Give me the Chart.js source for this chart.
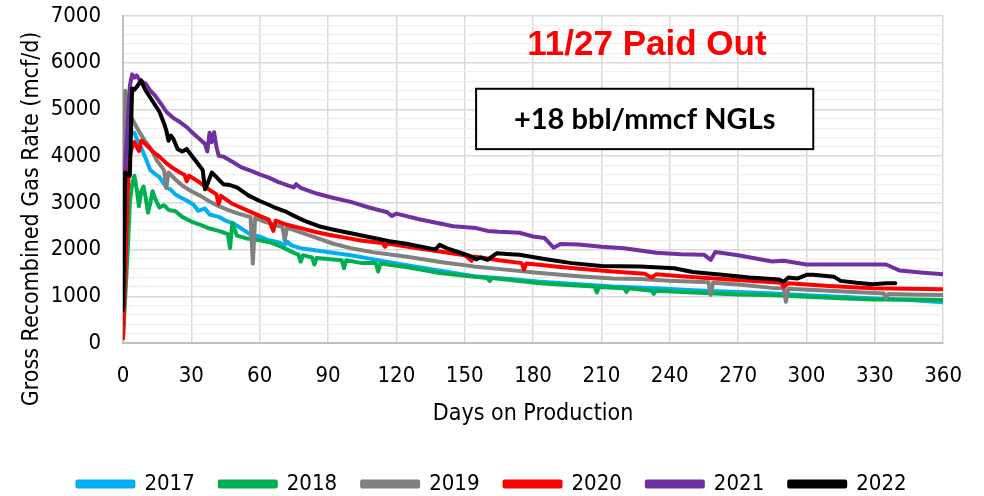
<!DOCTYPE html>
<html>
<head>
<meta charset="utf-8">
<script src="https://cdn.jsdelivr.net/npm/chart.js@4/dist/chart.umd.min.js"></script>
<style>
html,body{margin:0;padding:0;background:#fff;}
#wrap{width:984px;height:496px;position:relative;}
</style>
</head>
<body>
<div id="wrap"><canvas id="c" width="984" height="496"></canvas></div>
<script>
const seriesLabels = ['2017','2018','2019','2020','2021','2022'];
const seriesColors = ['#00b0f0','#00b050','#808080','#ff0000','#7030a0','#000000'];

const days2017 = [0,1,2,3,4,5,6,8,10,12,14,16,19,21,23,26,28,31,33,36,38,42,45,48,52,56,60,64,68,71,72,74,78,85,92,100,110,124,140,154,170,183,200,215,234,250,270,286,300,315,330,345,360];
const rate2017 = [300,2200,3900,4450,4500,4500,4380,4180,3950,3700,3620,3550,3330,3280,3180,3100,3050,2960,2830,2880,2750,2700,2620,2570,2450,2320,2280,2200,2160,2100,2170,2090,2030,1980,1930,1880,1790,1670,1540,1430,1370,1310,1260,1210,1170,1130,1090,1060,1020,990,950,920,870];

const days2018 = [0,1,2,3,4,5,6,7,8,9,10,11,12,13,14,16,18,20,23,26,30,34,38,42,46,47,48,50,55,60,65,70,75,77,78,79,83,84,85,90,96,97,98,105,111,112,113,125,139,150,160,161,162,175,183,195,207,208,209,220,221,222,232,233,234,250,270,286,300,315,329,345,360];
const rate2018 = [100,1000,1900,3000,3400,3580,3300,2930,3250,3350,3100,2790,3000,3250,3100,2900,2950,2850,2820,2700,2600,2530,2450,2400,2330,2030,2570,2300,2230,2200,2150,2050,1930,1890,1740,1880,1830,1680,1820,1800,1770,1600,1770,1710,1710,1530,1700,1620,1500,1440,1390,1330,1390,1320,1280,1240,1210,1080,1200,1170,1090,1170,1120,1050,1120,1080,1040,1020,990,960,930,930,920];

const days2019 = [0,1,2,3,4,6,8,10,12,15,18,19,20,23,26,30,34,38,42,46,50,54,56,57,58,62,66,70,71,72,78,85,92,100,110,124,140,154,170,183,200,215,227,240,257,258,259,270,285,290,291,292,310,330,334,335,336,345,360];
const rate2019 = [100,5400,5000,4900,4800,4620,4450,4300,4180,3900,3700,3320,3650,3500,3370,3250,3150,3030,2930,2850,2780,2720,2700,1700,2680,2600,2540,2480,2200,2470,2370,2250,2130,2030,1940,1850,1730,1640,1560,1500,1430,1380,1370,1330,1300,1030,1290,1250,1180,1170,880,1160,1120,1070,1060,960,1050,1040,1030];

const days2020 = [0,1,2,3,4,5,6,7,8,9,10,12,14,16,19,22,25,27,28,29,33,38,41,42,43,48,55,60,64,66,67,72,78,85,92,98,105,114,115,116,125,139,150,153,154,165,175,176,177,190,198,215,229,232,234,245,256,275,289,290,292,310,329,345,360];
const rate2020 = [100,1500,3200,4000,4200,4300,4200,4110,4330,4300,4250,4150,4060,3990,3850,3740,3650,3600,3460,3580,3460,3280,3180,2980,3150,2980,2830,2720,2640,2400,2620,2530,2460,2370,2300,2250,2190,2140,2060,2130,2060,1960,1880,1760,1850,1770,1710,1570,1700,1640,1600,1530,1480,1400,1470,1430,1390,1330,1290,1200,1280,1220,1170,1160,1150];

const days2021 = [0,1,2,3,4,5,6,7,8,10,12,14,17,19,22,25,28,31,34,36,37,38,39,40,41,42,44,48,52,56,60,64,68,72,75,76,78,85,92,100,108,116,118,120,130,145,155,160,165,174,180,185,189,192,200,210,220,234,245,255,258,260,270,285,290,300,315,335,341,350,360];
const rate2021 = [700,3800,4600,5500,5750,5680,5730,5650,5600,5550,5400,5300,5100,4950,4820,4730,4620,4480,4350,4260,4100,4500,4300,4510,4200,4010,3990,3880,3760,3690,3610,3540,3450,3380,3330,3400,3320,3200,3110,3020,2900,2800,2720,2770,2650,2500,2460,2400,2380,2360,2280,2250,2040,2120,2110,2060,2030,1930,1900,1890,1780,1950,1880,1745,1760,1680,1680,1680,1550,1510,1470];

const days2022 = [0,1,2,3,4,5,6,7,8,9,10,12,14,16,18,19,20,21,22,24,26,28,30,33,35,36,37,39,41,44,47,50,55,60,64,67,72,76,80,86,92,100,108,117,125,132,137,139,142,150,153,155,157,160,164,170,174,185,197,210,227,242,250,263,275,288,290,292,296,300,303,312,315,322,329,335,339];
const rate2022 = [700,3650,3600,3580,5450,5420,5480,5550,5620,5500,5400,5250,5100,4950,4700,4550,4330,4440,4380,4150,4100,4150,4020,3830,3700,3290,3400,3650,3550,3400,3380,3330,3160,3040,2960,2890,2800,2700,2610,2500,2430,2350,2270,2180,2120,2050,2000,2100,2030,1900,1850,1790,1830,1780,1920,1900,1890,1800,1710,1650,1640,1600,1520,1460,1400,1360,1310,1400,1380,1460,1460,1420,1330,1290,1260,1280,1280];

const xTicks = [0,30,60,90,120,150,180,210,240,270,300,330,360];
const yTicks = [0,1000,2000,3000,4000,5000,6000,7000];
const titleText = '11/27 Paid Out';
const boxText = '+18 bbl/mmcf NGLs';
const xTitle = 'Days on Production';
const yTitle = 'Gross Recombined Gas Rate (mcf/d)';

const allDays = [days2017,days2018,days2019,days2020,days2021,days2022];
const allRates = [rate2017,rate2018,rate2019,rate2020,rate2021,rate2022];

const FONT = "'DejaVu Sans Condensed', 'DejaVu Sans', sans-serif";

const datasets = seriesLabels.map((lab, i) => ({
  label: lab,
  data: allDays[i].map((d, k) => ({x: d, y: allRates[i][k]})),
  borderColor: seriesColors[i],
  backgroundColor: seriesColors[i],
  borderWidth: 4,
  borderJoinStyle: 'round',
  borderCapStyle: 'round',
  pointRadius: 0,
  tension: 0,
  fill: false,
  order: seriesLabels.length - i
}));

const annot = {
  id: 'annot',
  afterDatasetsDraw(chart) {
    const ctx = chart.ctx, x = chart.scales.x, y = chart.scales.y;
    ctx.save();
    ctx.fillStyle = '#ff0000';
    ctx.font = "bold 35px 'Liberation Sans', Arial, sans-serif";
    ctx.textAlign = 'center';
    ctx.textBaseline = 'alphabetic';
    ctx.fillText(titleText, x.getPixelForValue(230), y.getPixelForValue(6166));
    const bx0 = x.getPixelForValue(155), bx1 = x.getPixelForValue(303);
    const by0 = y.getPixelForValue(5442), by1 = y.getPixelForValue(4150);
    ctx.fillStyle = '#ffffff';
    ctx.fillRect(bx0, by0, bx1 - bx0, by1 - by0);
    ctx.strokeStyle = '#000000';
    ctx.lineWidth = 2;
    ctx.strokeRect(bx0, by0, bx1 - bx0, by1 - by0);
    ctx.fillStyle = '#000000';
    ctx.font = "bold 29px Lato, 'Open Sans', sans-serif";
    ctx.fillText(boxText, (bx0 + bx1) / 2, y.getPixelForValue(4581));
    ctx.restore();
  }
};

new Chart(document.getElementById('c'), {
  type: 'line',
  data: { datasets },
  plugins: [annot],
  options: {
    responsive: false,
    animation: false,
    devicePixelRatio: 1,
    layout: { padding: { left: 0, right: 0, top: 16, bottom: -9 } },
    plugins: {
      tooltip: { enabled: false },
      legend: {
        position: 'bottom',
        labels: {
          boxWidth: 56, boxHeight: 5, padding: 25,
          color: '#000', font: { family: FONT, size: 22 },
          sort: (a, b) => a.datasetIndex - b.datasetIndex
        }
      }
    },
    scales: {
      x: {
        type: 'linear', min: 0, max: 360,
        afterBuildTicks: (s) => { s.ticks = xTicks.map(v => ({value: v})); },
        afterFit: (s) => { s.height = 105; },
        ticks: { color: '#000', font: { family: FONT, size: 22, lineHeight: 1.0 }, padding: 22, maxRotation: 0, autoSkip: false },
        grid: { color: '#d9d9d9', lineWidth: 1.5, drawTicks: false },
        border: { color: '#bfbfbf', width: 2 },
        title: { display: true, text: xTitle, color: '#000', font: { family: FONT, size: 23 }, padding: { top: 0, bottom: 20 } }
      },
      y: {
        type: 'linear', min: 0, max: 7000,
        afterBuildTicks: (s) => { const t = []; for (let v = 0; v <= 7000; v += 200) t.push({value: v}); s.ticks = t; },
        afterFit: (s) => { s.width = 123; },
        ticks: {
          color: '#000', font: { family: FONT, size: 22 }, padding: 0, autoSkip: false,
          callback: (v) => yTicks.includes(v) ? String(v) : ''
        },
        grid: {
          drawTicks: true, tickLength: 22, tickColor: 'rgba(0,0,0,0)',
          color: (c) => (c.tick && c.tick.value % 1000 === 0) ? '#d9d9d9' : '#eeeeee',
          lineWidth: (c) => (c.tick && c.tick.value % 1000 === 0) ? 1.5 : 1.2
        },
        border: { color: '#bfbfbf', width: 2 },
        title: { display: true, text: yTitle + '\u00A0'.repeat(12), color: '#000', font: { family: FONT, size: 23 }, padding: { top: 18, bottom: 0 } }
      }
    }
  }
});
</script>
</body>
</html>
